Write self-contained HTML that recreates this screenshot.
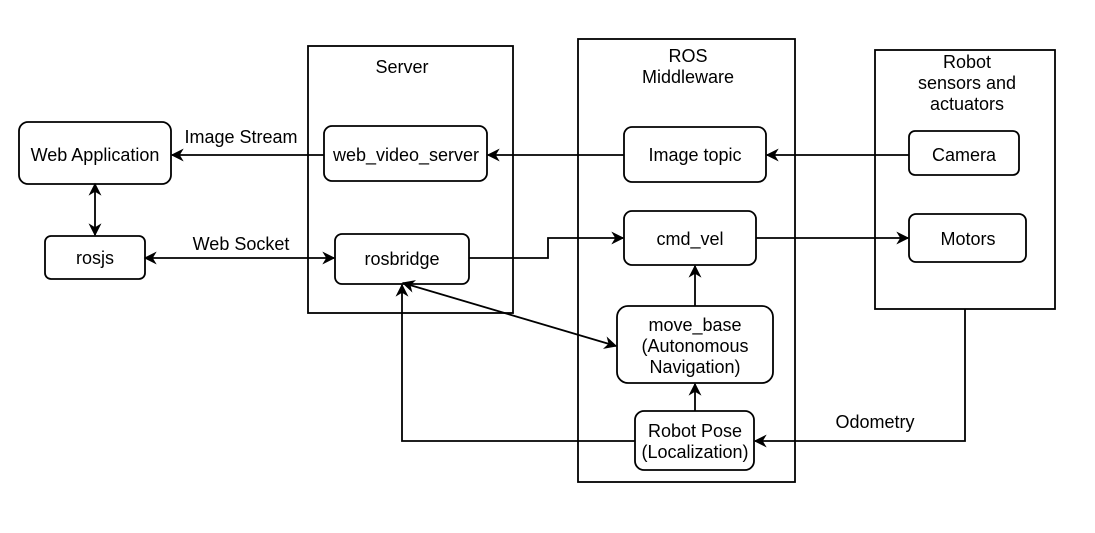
<!DOCTYPE html>
<html><head><meta charset="utf-8"><style>
html,body{margin:0;padding:0;background:#fff;}
svg text{font-family:"Liberation Sans",sans-serif;font-size:18px;fill:#000;}
</style></head><body>
<svg width="1095" height="528" viewBox="0 0 1095 528" xmlns="http://www.w3.org/2000/svg">
<defs>
<marker id="a" viewBox="0 0 10 10" refX="9" refY="5" markerWidth="13" markerHeight="13" markerUnits="userSpaceOnUse" orient="auto-start-reverse">
<path d="M0,0 L10,5 L0,10 L3,5 Z" fill="#000"/>
</marker>
</defs>
<g fill="none" stroke="#000" stroke-width="1.8">
<rect x="308" y="46" width="205" height="267"/>
<rect x="578" y="39" width="217" height="443"/>
<rect x="875" y="50" width="180" height="259"/>
<rect x="19" y="122" width="152" height="62" rx="9"/>
<rect x="45" y="236" width="100" height="43" rx="6"/>
<rect x="324" y="126" width="163" height="55" rx="8"/>
<rect x="335" y="234" width="134" height="50" rx="7"/>
<rect x="624" y="127" width="142" height="55" rx="8"/>
<rect x="624" y="211" width="132" height="54" rx="8"/>
<rect x="617" y="306" width="156" height="77" rx="11"/>
<rect x="635" y="411" width="119" height="59" rx="9"/>
<rect x="909" y="131" width="110" height="44" rx="6"/>
<rect x="909" y="214" width="117" height="48" rx="7"/>
</g>
<g fill="none" stroke="#000" stroke-width="1.8" marker-end="url(#a)">
<line x1="324" y1="155" x2="172" y2="155"/>
<line x1="624" y1="155" x2="488" y2="155"/>
<line x1="909" y1="155" x2="767" y2="155"/>
<line x1="95" y1="184" x2="95" y2="235" marker-start="url(#a)"/>
<line x1="145" y1="258" x2="334" y2="258" marker-start="url(#a)"/>
<polyline points="469,258 548,258 548,238 623,238"/>
<line x1="756" y1="238" x2="908" y2="238"/>
<line x1="695" y1="306" x2="695" y2="266"/>
<line x1="695" y1="411" x2="695" y2="384"/>
<line x1="403" y1="283" x2="616" y2="346" marker-start="url(#a)"/>
<polyline points="635,441 402,441 402,285"/>
<polyline points="965,309 965,441 755,441"/>
</g>
<g text-anchor="middle">
<text x="402" y="73">Server</text>
<text x="688" y="62">ROS</text>
<text x="688" y="83">Middleware</text>
<text x="967" y="68">Robot</text>
<text x="967" y="89">sensors and</text>
<text x="967" y="110">actuators</text>
<text x="95" y="161">Web Application</text>
<text x="95" y="264">rosjs</text>
<text x="406" y="161">web_video_server</text>
<text x="402" y="265">rosbridge</text>
<text x="695" y="161">Image topic</text>
<text x="690" y="245">cmd_vel</text>
<text x="695" y="331">move_base</text>
<text x="695" y="352">(Autonomous</text>
<text x="695" y="373">Navigation)</text>
<text x="695" y="437">Robot Pose</text>
<text x="695" y="458">(Localization)</text>
<text x="964" y="161">Camera</text>
<text x="968" y="245">Motors</text>
<text x="241" y="143">Image Stream</text>
<text x="241" y="250">Web Socket</text>
<text x="875" y="428">Odometry</text>
</g>
</svg>
</body></html>
